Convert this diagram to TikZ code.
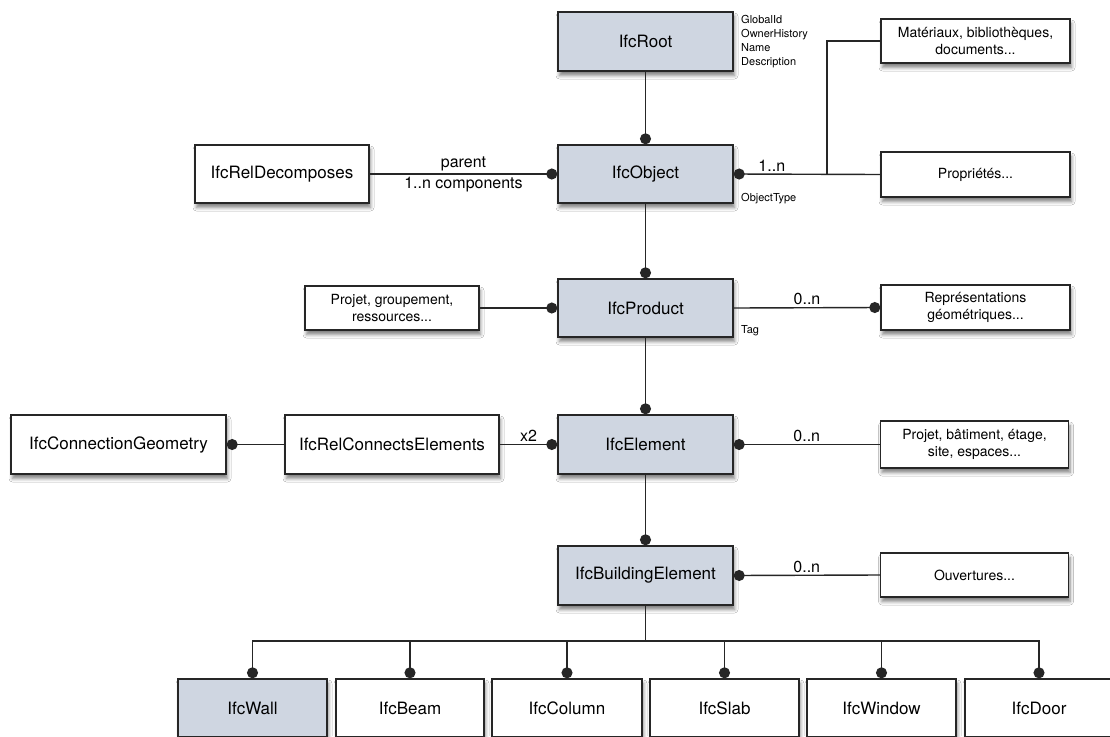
\documentclass[tikz,border=0pt]{standalone}
\usepackage{fontspec}
\setmainfont{TeX Gyre Heros}
\usetikzlibrary{arrows.meta,shadows.blur}
\definecolor{ifcblue}{HTML}{CFD6E1}
\definecolor{ink}{HTML}{262626}
\begin{document}
\begin{tikzpicture}[x=1pt,y=-1pt,
  base/.style={draw=ink, line width=1.4pt, inner sep=2pt, align=center,
    blur shadow={shadow xshift=1.5pt, shadow yshift=-4.5pt, shadow blur steps=6, shadow blur radius=3.5pt, shadow opacity=50}},
  cls/.style={base, fill=ifcblue, font=\fontsize{17}{20}\selectfont},
  ent/.style={base, fill=white, font=\fontsize{17}{20}\selectfont},
  note/.style={base, fill=white, font=\fontsize{14}{17}\selectfont},
  conn/.style={draw=ink, line width=1.4pt},
  dotend/.style={conn, -{Circle[length=11pt,width=11pt]}},
  dotstart/.style={conn, {Circle[length=11pt,width=11pt]}-},
  lbl/.style={font=\fontsize{16}{18}\selectfont, inner sep=2pt},
  attr/.style={font=\fontsize{11}{14}\selectfont, inner sep=0pt, align=left},
]
\useasboundingbox[fill=white] (0,0) rectangle (1110,736);

% main column
\node[cls, minimum width=175pt, minimum height=59pt] (root) at (645.5,41.5) {IfcRoot};
\node[cls, minimum width=175pt, minimum height=58pt] (object) at (645.5,174) {IfcObject};
\node[cls, minimum width=175pt, minimum height=58pt] (product) at (645.5,308) {IfcProduct};
\node[cls, minimum width=175pt, minimum height=59pt] (element) at (645.5,444.5) {IfcElement};
\node[cls, minimum width=175pt, minimum height=59pt] (bldg) at (645.5,575.5) {IfcBuildingElement};

% left side
\node[ent, minimum width=174pt, minimum height=58pt] (reldec) at (282,174) {IfcRelDecomposes};
\node[note, minimum width=174pt, minimum height=44pt] (projgr) at (392,308) {Projet, groupement,\\ressources...};
\node[ent, minimum width=215pt, minimum height=59pt] (conngeom) at (118.5,444.5) {IfcConnectionGeometry};
\node[ent, minimum width=214pt, minimum height=59pt] (relconn) at (392,444.5) {IfcRelConnectsElements};

% right side
\node[note, minimum width=189pt, minimum height=44pt] (mat) at (975.5,41) {Matériaux, bibliothèques,\\documents...};
\node[note, minimum width=189pt, minimum height=45pt] (prop) at (975.5,174.5) {Propriétés...};
\node[note, minimum width=189pt, minimum height=45pt] (repr) at (975.5,307.5) {Représentations\\géométriques...};
\node[note, minimum width=188pt, minimum height=47pt] (projbat) at (974.5,444.5) {Projet, bâtiment, étage,\\site, espaces...};
\node[note, minimum width=188pt, minimum height=44pt] (ouv) at (974.5,575) {Ouvertures...};

% bottom row
\node[cls, minimum width=149pt, minimum height=58pt] (wall) at (252.5,708) {IfcWall};
\node[ent, minimum width=148pt, minimum height=58pt] (beam) at (410,708) {IfcBeam};
\node[ent, minimum width=150pt, minimum height=58pt] (column) at (567,708) {IfcColumn};
\node[ent, minimum width=149pt, minimum height=58pt] (slab) at (724.5,708) {IfcSlab};
\node[ent, minimum width=149pt, minimum height=58pt] (window) at (881.5,708) {IfcWindow};
\node[ent, minimum width=148pt, minimum height=58pt] (door) at (1039,708) {IfcDoor};

% attribute texts
\node[attr, anchor=north west] (rootattr) at (741,15.5) {GlobalId\\OwnerHistory\\Name\\Description};
\node[attr, anchor=west] (objattr) at (741,199) {ObjectType};
\node[attr, anchor=west] (prodattr) at (741,331) {Tag};

% connectors
\draw[dotend] (root.south) -- (object.north);
\draw[dotend] (object.south) -- (product.north);
\draw[dotend] (product.south) -- (element.north);
\draw[dotend] (element.south) -- (bldg.north);

\draw[dotend] (reldec.east) -- node[lbl, above]{parent} node[lbl, below]{1..n components} (object.west);
\draw[dotstart] (object.east) -- node[lbl, above, pos=0.26]{1..n} (prop.west);
\coordinate (br) at (827,174);
\draw[conn] (br) |- (mat.west);

\draw[dotend] (projgr.east) -- (product.west);
\draw[dotend] (product.east) -- node[lbl, above]{0..n} (repr.west);

\draw[dotend] (relconn.west) -- (conngeom.east);
\draw[dotend] (relconn.east) -- node[lbl, above]{x2} (element.west);
\draw[dotstart] (element.east) -- node[lbl, above]{0..n} (projbat.west);

\draw[dotstart] (bldg.east) -- node[lbl, above]{0..n} (ouv.west);

\coordinate (jn) at (645.5,641);
\draw[conn] (bldg.south) -- (jn);
\foreach \c in {wall,beam,column,slab,window,door}
  \draw[dotend] (jn) -| (\c.north);
\end{tikzpicture}
\end{document}
